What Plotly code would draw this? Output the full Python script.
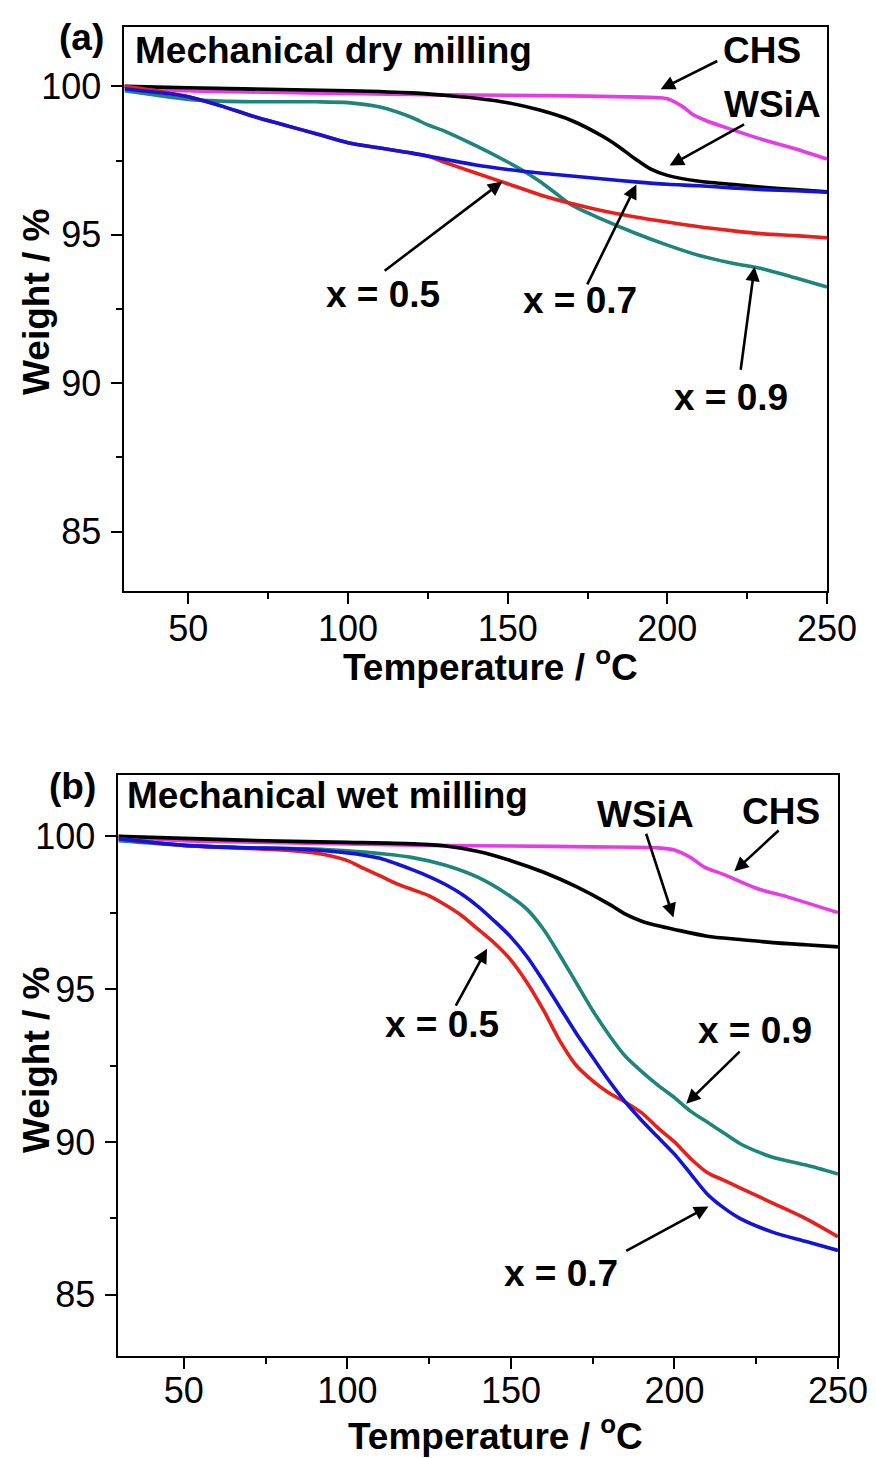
import plotly.graph_objects as go

# ---------------- (a) mechanical dry milling ----------------
dry_chs_t = [30, 50, 75, 100, 125, 150, 175, 195, 200, 205, 208, 212, 220, 230, 240, 250]
dry_chs_w = [100.0, 99.85, 99.8, 99.76, 99.72, 99.7, 99.67, 99.63, 99.58, 99.3, 99.05, 98.85, 98.55, 98.2, 97.9, 97.55]

dry_wsia_t = [30, 50, 75, 100, 120, 130, 140, 150, 160, 170, 180, 185, 190, 195, 200, 210, 220, 230, 240, 250]
dry_wsia_w = [100.0, 99.95, 99.9, 99.85, 99.78, 99.7, 99.6, 99.45, 99.2, 98.85, 98.3, 97.95, 97.55, 97.2, 97.0, 96.8, 96.7, 96.6, 96.52, 96.45]

dry_x05_t = [30, 40, 50, 60, 70, 80, 90, 100, 110, 120, 125, 130, 140, 150, 160, 170, 180, 190, 200, 210, 220, 230, 240, 250]
dry_x05_w = [100.0, 99.85, 99.65, 99.35, 99.0, 98.7, 98.4, 98.1, 97.92, 97.75, 97.65, 97.45, 97.08, 96.72, 96.35, 96.05, 95.8, 95.6, 95.43, 95.27, 95.14, 95.03, 94.97, 94.9]

dry_x07_t = [30, 40, 50, 60, 70, 80, 90, 100, 110, 120, 130, 140, 150, 160, 170, 180, 190, 200, 210, 220, 230, 240, 250]
dry_x07_w = [99.92, 99.8, 99.65, 99.35, 99.0, 98.7, 98.4, 98.1, 97.92, 97.75, 97.55, 97.35, 97.2, 97.08, 96.98, 96.88, 96.78, 96.7, 96.65, 96.58, 96.52, 96.48, 96.43]

dry_x09_t = [30, 40, 50, 60, 70, 80, 90, 100, 110, 120, 125, 130, 140, 150, 155, 160, 165, 170, 180, 190, 200, 210, 220, 230, 240, 250]
dry_x09_w = [99.85, 99.7, 99.56, 99.5, 99.48, 99.48, 99.48, 99.45, 99.3, 98.95, 98.7, 98.5, 98.0, 97.45, 97.15, 96.8, 96.4, 96.0, 95.5, 95.05, 94.65, 94.3, 94.05, 93.85, 93.55, 93.24]

# ---------------- (b) mechanical wet milling ----------------
wet_chs_t = [30, 50, 75, 100, 125, 150, 175, 195, 200, 205, 209, 215, 225, 235, 250]
wet_chs_w = [100.0, 99.85, 99.8, 99.75, 99.7, 99.68, 99.65, 99.62, 99.55, 99.3, 99.0, 98.75, 98.3, 98.0, 97.5]

wet_wsia_t = [30, 50, 75, 100, 120, 130, 140, 150, 160, 170, 180, 185, 190, 195, 200, 210, 220, 230, 240, 250]
wet_wsia_w = [100.0, 99.93, 99.85, 99.8, 99.75, 99.68, 99.5, 99.2, 98.82, 98.35, 97.78, 97.45, 97.22, 97.07, 96.95, 96.73, 96.62, 96.52, 96.45, 96.38]

wet_x05_t = [30, 40, 50, 60, 70, 80, 90, 95, 100, 105, 110, 115, 120, 125, 130, 135, 140, 145, 150, 155, 160, 165, 170, 175, 180, 185, 190, 195, 200, 205, 210, 215, 220, 225, 230, 240, 250]
wet_x05_w = [99.92, 99.8, 99.7, 99.64, 99.6, 99.55, 99.45, 99.35, 99.2, 98.95, 98.7, 98.45, 98.25, 98.05, 97.75, 97.4, 96.95, 96.5, 95.95, 95.2, 94.3, 93.3, 92.5, 92.0, 91.6, 91.3, 90.95, 90.45, 90.0, 89.45, 89.0, 88.75, 88.5, 88.25, 88.0, 87.5, 86.9]

wet_x07_t = [30, 50, 70, 80, 90, 100, 105, 110, 115, 120, 125, 130, 135, 140, 145, 150, 155, 160, 165, 170, 175, 180, 185, 190, 195, 200, 205, 210, 215, 220, 230, 240, 250]
wet_x07_w = [99.92, 99.7, 99.62, 99.6, 99.55, 99.45, 99.38, 99.28, 99.1, 98.9, 98.68, 98.42, 98.1, 97.7, 97.22, 96.7, 96.05, 95.25, 94.4, 93.55, 92.77, 92.0, 91.3, 90.7, 90.15, 89.6, 88.95, 88.3, 87.85, 87.5, 87.05, 86.75, 86.45]

wet_x09_t = [30, 50, 70, 90, 100, 110, 120, 130, 140, 150, 155, 160, 165, 170, 175, 180, 185, 190, 195, 200, 205, 210, 215, 220, 225, 230, 240, 250]
wet_x09_w = [99.85, 99.7, 99.62, 99.58, 99.52, 99.43, 99.3, 99.05, 98.65, 98.02, 97.6, 96.95, 96.1, 95.2, 94.3, 93.5, 92.8, 92.3, 91.85, 91.45, 91.0, 90.65, 90.3, 89.95, 89.7, 89.5, 89.25, 88.95]

MAGENTA = "#E53CE8"
BLACK = "#000000"
RED = "#E8201C"
BLUE = "#1414D6"
TEAL = "#1E857C"
LINE_W = 3.6

FONT = "Liberation Sans, Arial, sans-serif"
TICK_SIZE = 36
LABEL_SIZE = 37

fig = go.Figure()

panels = [
    ("x", "y", [
        (dry_chs_t, dry_chs_w, MAGENTA, "CHS"),
        (dry_wsia_t, dry_wsia_w, BLACK, "WSiA"),
        (dry_x09_t, dry_x09_w, TEAL, "x = 0.9"),
        (dry_x05_t, dry_x05_w, RED, "x = 0.5"),
        (dry_x07_t, dry_x07_w, BLUE, "x = 0.7"),
    ]),
    ("x2", "y2", [
        (wet_chs_t, wet_chs_w, MAGENTA, "CHS"),
        (wet_wsia_t, wet_wsia_w, BLACK, "WSiA"),
        (wet_x09_t, wet_x09_w, TEAL, "x = 0.9"),
        (wet_x05_t, wet_x05_w, RED, "x = 0.5"),
        (wet_x07_t, wet_x07_w, BLUE, "x = 0.7"),
    ]),
]

for xa, ya, series in panels:
    for t, w, color, name in series:
        fig.add_trace(go.Scatter(
            x=t, y=w, mode="lines", name=name, xaxis=xa, yaxis=ya,
            line=dict(color=color, width=LINE_W, shape="spline", smoothing=0.8),
            showlegend=False,
        ))

x_range = [30, 250]
y_range = [83, 102]


def x_axis(domain, anchor, standoff):
    return dict(
        domain=domain, anchor=anchor, range=x_range, automargin=False,
        tickmode="linear", tick0=50, dtick=50,
        ticks="outside", ticklen=11, tickwidth=2, tickcolor="black",
        minor=dict(ticks="outside", ticklen=6, tickwidth=2, tickcolor="black", dtick=25, tick0=25),
        showline=True, linewidth=2, linecolor="black", mirror=True,
        showgrid=False, zeroline=False,
        tickfont=dict(family=FONT, size=TICK_SIZE, color="black"),
        ticklabelstandoff=standoff,
    )


def y_axis(domain, anchor):
    return dict(
        domain=domain, anchor=anchor, range=y_range, automargin=False,
        tickmode="linear", tick0=85, dtick=5,
        ticks="outside", ticklen=11, tickwidth=2, tickcolor="black",
        minor=dict(ticks="outside", ticklen=6, tickwidth=2, tickcolor="black", dtick=2.5, tick0=85),
        showline=True, linewidth=2, linecolor="black", mirror=True,
        showgrid=False, zeroline=False,
        tickfont=dict(family=FONT, size=TICK_SIZE, color="black"),
        ticklabelstandoff=3,
    )


def top_axis(overlay, anchor):
    return dict(
        overlaying=overlay, anchor=anchor, side="top", range=x_range, automargin=False,
        tickmode="array", tickvals=[75, 125, 175, 225],
        ticks="outside", ticklen=7, tickwidth=2, tickcolor="black",
        showticklabels=False, showline=False, showgrid=False, zeroline=False,
    )


dom_a_x = [0.1421, 0.9441]
dom_a_y = [0.5947, 0.9815]
dom_b_x = [0.1352, 0.9566]
dom_b_y = [0.0700, 0.4684]

fig.update_layout(
    width=876, height=1458,
    margin=dict(l=0, r=0, t=0, b=0, autoexpand=False),
    paper_bgcolor="white", plot_bgcolor="white",
    font=dict(family=FONT, color="black"),
    xaxis=x_axis(dom_a_x, "y", -6),
    yaxis=y_axis(dom_a_y, "x"),
    xaxis2=x_axis(dom_b_x, "y2", -9),
    yaxis2=y_axis(dom_b_y, "x2"),
    xaxis3=top_axis("x", "y"),
    xaxis4=top_axis("x2", "y2"),
)

bold = dict(family=FONT, size=LABEL_SIZE, color="black")
centred = dict(xanchor="center", yanchor="middle", showarrow=False, font=bold)

# axis titles
for yc in (0.7929, 0.2730):
    fig.add_annotation(text="<b>Weight / %</b>", xref="paper", yref="paper", x=0.0422, y=yc,
                       textangle=-90, **centred)
for xc, yc in ((0.5605, 0.5439), (0.5662, 0.0165)):
    fig.add_annotation(text="<b>Temperature / <sup>o</sup>C</b>", xref="paper", yref="paper",
                       x=xc, y=yc, **centred)

# panel letters and titles
fig.add_annotation(text="<b>(a)</b>", xref="paper", yref="paper", x=0.0936, y=0.974, **centred)
fig.add_annotation(text="<b>(b)</b>", xref="paper", yref="paper", x=0.0833, y=0.4609, **centred)
fig.add_annotation(text="<b>Mechanical dry milling</b>", xref="x", yref="y", x=32.7, y=101.22,
                   xanchor="left", yanchor="middle", showarrow=False, font=bold)
fig.add_annotation(text="<b>Mechanical wet milling</b>", xref="x2", yref="y2", x=32.0, y=101.32,
                   xanchor="left", yanchor="middle", showarrow=False, font=bold)

# curve labels: (xref, yref, text, text_x, text_y, tail_x, tail_y, head_x, head_y)
labels = [
    ("x", "y", "CHS", 229.5, 101.22, 216.1, 100.88, 197.9, 99.9),
    ("x", "y", "WSiA", 233.0, 99.39, 224.5, 98.75, 200.7, 97.33),
    ("x", "y", "x = 0.5", 111.0, 93.0, 111.0, 93.75, 148.3, 96.79),
    ("x", "y", "x = 0.7", 172.5, 92.8, 174.7, 93.28, 190.3, 96.69),
    ("x", "y", "x = 0.9", 219.8, 89.53, 222.9, 90.4, 227.3, 93.92),
    ("x2", "y2", "WSiA", 191.2, 100.72, 191.2, 100.13, 199.7, 97.34),
    ("x2", "y2", "CHS", 232.6, 100.82, 232.3, 100.23, 218.3, 98.85),
    ("x2", "y2", "x = 0.5", 128.9, 93.85, 132.9, 94.41, 142.7, 96.32),
    ("x2", "y2", "x = 0.9", 224.7, 93.65, 220.4, 93.0, 203.6, 91.25),
    ("x2", "y2", "x = 0.7", 165.3, 85.69, 184.8, 86.41, 210.4, 87.89),
]

for xr, yr, txt, tx, ty, ax_, ay_, hx, hy in labels:
    fig.add_annotation(text=f"<b>{txt}</b>", xref=xr, yref=yr, x=tx, y=ty, **centred)
    fig.add_annotation(text="", xref=xr, yref=yr, x=hx, y=hy,
                       axref=xr, ayref=yr, ax=ax_, ay=ay_,
                       showarrow=True, arrowhead=2, arrowsize=1.1, arrowwidth=2.6,
                       arrowcolor="black", standoff=0)

fig.write_html("out.html")
